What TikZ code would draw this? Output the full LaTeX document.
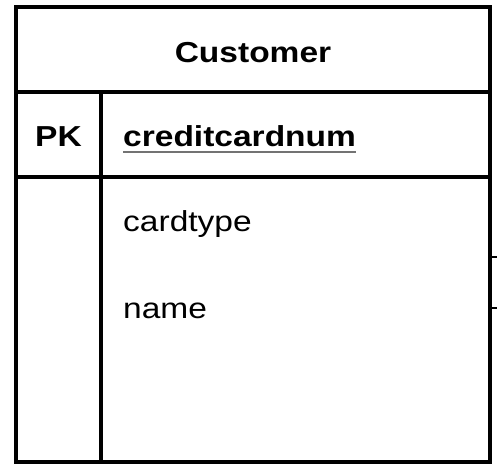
\documentclass[tikz,border=0pt]{standalone}
\usepackage{graphicx}
\usepackage{fontspec}
\setmainfont{Liberation Sans}
\usetikzlibrary{positioning}

% stretched sans text, as in the reference
\newcommand{\widetext}[1]{\scalebox{1.16}[1]{#1}}

\begin{document}
\begin{tikzpicture}[x=1bp, y=-1bp,
  entline/.style={line width=3.5bp, line cap=rect},
  attr/.style={anchor=base west, inner sep=0pt, font=\fontsize{29}{34}\selectfont},
  keyattr/.style={attr, font=\fontsize{29}{34}\selectfont\bfseries}]

\useasboundingbox (0,0) rectangle (497,474);

% Define the table edges
\def\tleft{16}
\def\tright{490}
\def\ttop{7}
\def\thead{92}
\def\tkey{177}
\def\tbottom{462}
\def\tsplit{101}

% Draw the entity box
\draw[entline] (\tleft,\ttop) rectangle (\tright,\tbottom);
\draw[entline] (\tleft,\thead) -- (\tright,\thead);
\draw[entline] (\tleft,\tkey) -- (\tright,\tkey);
\draw[entline] (\tsplit,\thead) -- (\tsplit,\tbottom);

% Entity name
\node[keyattr, anchor=base] (title) at (253,63) {\widetext{Customer}};

% Primary key row
\node[keyattr] (pk) at (35,147) {\widetext{PK}};
\node[keyattr] (keyname) at (123,147) {\widetext{creditcardnum}};
\draw[black!55, line width=2bp] ([yshift=-5bp]keyname.base west) -- ([yshift=-5bp]keyname.base east);

% Other attributes
\node[attr] (cardtype) at (123,232) {\widetext{cardtype}};
\node[attr] (name) at (123,318) {\widetext{name}};

% Stubs of the links leaving the box
\coordinate (boxA) at (\tright,257);
\coordinate (linkA) at (497,257);
\coordinate (boxB) at (\tright,308);
\coordinate (linkB) at (497,308);
\draw[line width=2bp] (boxA) -- (linkA);
\draw[line width=2bp] (boxB) -- (linkB);

\end{tikzpicture}
\end{document}
